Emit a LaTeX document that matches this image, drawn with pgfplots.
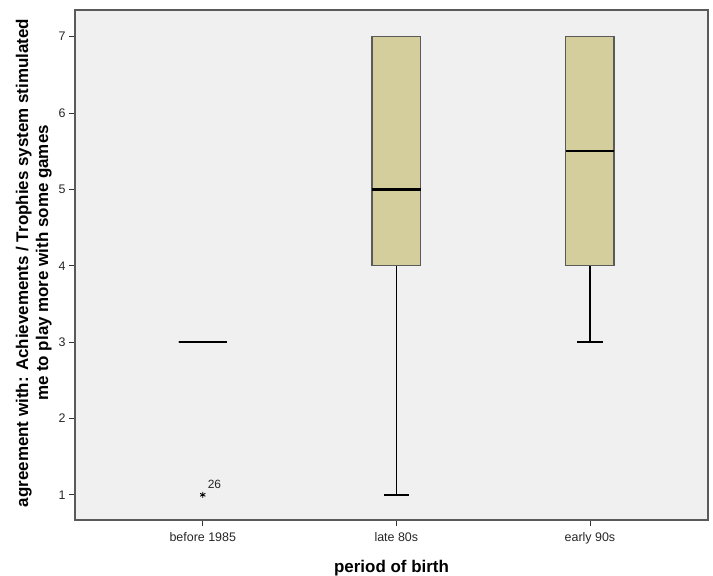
\documentclass[border=0pt]{standalone}
\usepackage{pgfplots}
\pgfplotsset{compat=1.18}
\usepgfplotslibrary{statistics}
\usepackage{fontspec}
\setmainfont{Liberation Sans}
\definecolor{boxfill}{RGB}{211,206,155}
\definecolor{bg}{RGB}{240,240,240}
\definecolor{axgray}{RGB}{90,90,90}
\begin{document}
\begin{tikzpicture}
\begin{axis}[
  scale only axis, width=633bp, height=510bp,
  xmin=-0.66, xmax=2.61, ymin=0.67, ymax=7.35,
  axis background/.style={fill=bg},
  axis line style={axgray, line width=1.4pt},
  xtick={0,1,2}, xticklabels={before 1985, late 80s, early 90s},
  ytick={1,2,3,4,5,6,7},
  tick align=outside, xtick pos=bottom, ytick pos=left,
  major tick length=6bp,
  tick style={black!80, line width=0.8pt},
  tick label style={font=\fontsize{12.5}{14}\selectfont, text=black!85},
  xticklabel style={yshift=-3bp},
  /pgf/number format/assume math mode=true,
  xlabel={period of birth},
  ylabel={agreement with: Achievements / Trophies system stimulated\\me to play more with some games},
  label style={font=\bfseries\fontsize{17}{20}\selectfont},
  xlabel style={yshift=-9bp},
  ylabel style={align=center, xshift=2bp},
  boxplot/draw direction=y,
  boxplot/box extend=0.25,
  boxplot/whisker extend=0.13,
  boxplot/every box/.style={draw=axgray, fill=boxfill, line width=1.4pt},
  boxplot/every median/.style={black, line width=2.4pt},
  boxplot/every whisker/.style={black, line width=1.4pt},
  clip=false,
]
\addplot[boxplot prepared={draw position=0, lower whisker=3, lower quartile=3,
  median=3, upper quartile=3, upper whisker=3},
  mark=asterisk, mark size=3pt, mark options={black, line width=0.9pt}]
  table[row sep=\\, y index=0] {data\\ 1\\};
\addplot[boxplot prepared={draw position=1, lower whisker=1, lower quartile=4,
  median=5, upper quartile=7, upper whisker=7}] coordinates {};
\addplot[boxplot prepared={draw position=2, lower whisker=3, lower quartile=4,
  median=5.5, upper quartile=7, upper whisker=7}] coordinates {};
\node[font=\fontsize{12}{14}\selectfont, anchor=south west, inner sep=1pt, text=black!85]
  at (axis cs:0.02,1.06) {26};
\end{axis}
\pgfresetboundingbox
\path (current axis.south west) ++(-75bp,-56bp) rectangle ([shift={(5bp,10bp)}]current axis.north east);
\end{tikzpicture}
\end{document}
